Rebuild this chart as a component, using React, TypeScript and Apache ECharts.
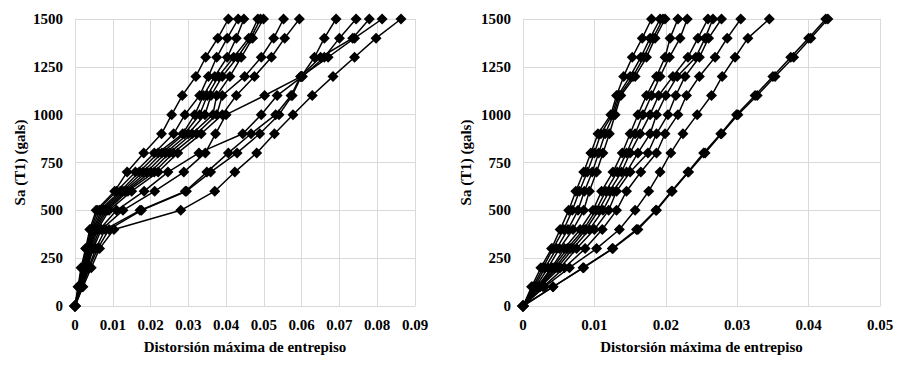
import React, { useEffect, useRef } from "react";
import * as echarts from "echarts";

// Sa (T1) levels (gals), shared by every curve
const levels = [0, 100, 200, 300, 400, 500, 600, 700, 800, 900, 1000, 1100, 1200, 1300, 1400, 1500];

// Left panel: maximum interstory drift per curve
const left01 = [0, 0.0008, 0.0016, 0.0028, 0.0039, 0.0056, 0.0105, 0.0138, 0.0182, 0.0229, 0.0256, 0.0284, 0.032, 0.0346, 0.0378, 0.0406];
const left02 = [0, 0.0009, 0.0018, 0.003, 0.0042, 0.006, 0.011, 0.016, 0.021, 0.0261, 0.0291, 0.033, 0.0353, 0.0375, 0.0403, 0.0432];
const left03 = [0, 0.001, 0.002, 0.0032, 0.0045, 0.0065, 0.012, 0.017, 0.022, 0.0285, 0.0317, 0.034, 0.037, 0.0403, 0.0427, 0.0447];
const left04 = [0, 0.0011, 0.0022, 0.0034, 0.0048, 0.007, 0.0125, 0.018, 0.023, 0.029, 0.033, 0.035, 0.038, 0.042, 0.046, 0.0484];
const left05 = [0, 0.0012, 0.0024, 0.0036, 0.005, 0.0075, 0.013, 0.019, 0.024, 0.03, 0.0344, 0.036, 0.039, 0.043, 0.0465, 0.0491];
const left06 = [0, 0.0013, 0.0026, 0.0038, 0.0053, 0.008, 0.0135, 0.02, 0.025, 0.031, 0.0365, 0.0375, 0.041, 0.044, 0.047, 0.0499];
const left07 = [0, 0.0014, 0.0028, 0.004, 0.0056, 0.0085, 0.014, 0.021, 0.026, 0.0322, 0.0375, 0.039, 0.0449, 0.0493, 0.0526, 0.0552];
const left08 = [0, 0.0015, 0.003, 0.0042, 0.006, 0.009, 0.015, 0.022, 0.0272, 0.0334, 0.039, 0.0427, 0.0475, 0.052, 0.0555, 0.0594];
const left09 = [0, 0.0016, 0.0033, 0.0048, 0.007, 0.0127, 0.0211, 0.0288, 0.0345, 0.0372, 0.04, 0.0502, 0.0599, 0.0634, 0.066, 0.0691];
const left10 = [0, 0.0016, 0.0032, 0.0045, 0.0065, 0.011, 0.0183, 0.0246, 0.0328, 0.0444, 0.0493, 0.0535, 0.0602, 0.066, 0.07, 0.0744];
const left11 = [0, 0.0018, 0.0036, 0.0055, 0.008, 0.0172, 0.0292, 0.0349, 0.0406, 0.0466, 0.0531, 0.0572, 0.0597, 0.065, 0.0735, 0.0779];
const left12 = [0, 0.0019, 0.0038, 0.006, 0.009, 0.0176, 0.0295, 0.0359, 0.0429, 0.0489, 0.054, 0.0575, 0.0599, 0.067, 0.074, 0.0813];
const left13 = [0, 0.0021, 0.0043, 0.0065, 0.0103, 0.028, 0.037, 0.0423, 0.0481, 0.0528, 0.0577, 0.0628, 0.0683, 0.074, 0.0797, 0.0863];

// Right panel
const right01 = [0, 0.0012, 0.0025, 0.004, 0.0052, 0.0064, 0.0074, 0.0085, 0.0095, 0.0105, 0.0123, 0.0131, 0.0141, 0.0153, 0.0167, 0.018];
const right02 = [0, 0.0014, 0.0028, 0.0042, 0.0057, 0.0069, 0.0079, 0.009, 0.01, 0.0109, 0.0125, 0.0133, 0.015, 0.0165, 0.0178, 0.0192];
const right03 = [0, 0.0016, 0.0031, 0.0047, 0.0063, 0.0077, 0.0086, 0.0097, 0.0106, 0.0115, 0.0127, 0.0135, 0.0154, 0.0169, 0.0182, 0.0196];
const right04 = [0, 0.0018, 0.0035, 0.0051, 0.007, 0.0085, 0.0093, 0.0103, 0.0112, 0.0121, 0.0129, 0.0137, 0.0157, 0.0173, 0.0185, 0.0199];
const right05 = [0, 0.002, 0.004, 0.0058, 0.008, 0.0098, 0.011, 0.0126, 0.0139, 0.015, 0.0161, 0.0173, 0.0187, 0.0199, 0.0206, 0.0217];
const right06 = [0, 0.0021, 0.0042, 0.0062, 0.0085, 0.0102, 0.0116, 0.0132, 0.0145, 0.0157, 0.0168, 0.018, 0.0192, 0.0205, 0.022, 0.023];
const right07 = [0, 0.0022, 0.0045, 0.0066, 0.0088, 0.0106, 0.0121, 0.0138, 0.015, 0.0164, 0.0178, 0.019, 0.021, 0.0231, 0.0245, 0.0259];
const right08 = [0, 0.0023, 0.0048, 0.007, 0.0093, 0.0112, 0.0126, 0.0145, 0.0161, 0.0178, 0.0187, 0.02, 0.0216, 0.0242, 0.0255, 0.0266];
const right09 = [0, 0.0024, 0.0052, 0.0075, 0.01, 0.012, 0.0131, 0.015, 0.0175, 0.0187, 0.0203, 0.0214, 0.0227, 0.0247, 0.026, 0.0278];
const right10 = [0, 0.0028, 0.0058, 0.0087, 0.0111, 0.0131, 0.0145, 0.0165, 0.0187, 0.0199, 0.0217, 0.0229, 0.0247, 0.0269, 0.0286, 0.0305];
const right11 = [0, 0.003, 0.0065, 0.0103, 0.0135, 0.0157, 0.0176, 0.0192, 0.0207, 0.0224, 0.0244, 0.0264, 0.0279, 0.0297, 0.0315, 0.0345];
const right12 = [0, 0.0042, 0.0084, 0.0125, 0.0159, 0.0186, 0.0208, 0.0231, 0.0253, 0.0277, 0.0299, 0.0325, 0.035, 0.0375, 0.04, 0.0424];
const right13 = [0, 0.0042, 0.0085, 0.0126, 0.0161, 0.0187, 0.0209, 0.0232, 0.0255, 0.0278, 0.0301, 0.0328, 0.0353, 0.0379, 0.0403, 0.0427];

const leftCurves = [left01, left02, left03, left04, left05, left06, left07, left08, left09, left10, left11, left12, left13];
const rightCurves = [right01, right02, right03, right04, right05, right06, right07, right08, right09, right10, right11, right12, right13];

const yTicks = { min: 0, max: 1500, interval: 250 };
const xTicksLeft = { min: 0, max: 0.09, interval: 0.01 };
const xTicksRight = { min: 0, max: 0.05, interval: 0.01 };

const yName = "Sa (T1) (gals)";
const xName = "Distorsión máxima de entrepiso";

const FONT = "Liberation Serif";
const GRID = "#d9d9d9";

function fmtX(v: number) {
  if (Math.abs(v) < 1e-9) return "0";
  return v.toFixed(2);
}
function fmtY(v: number) {
  return String(Math.round(v));
}

export default function App() {
  const ref = useRef<HTMLDivElement>(null);
  useEffect(() => {
    if (!ref.current) return;
    const chart = echarts.init(ref.current, undefined, { renderer: "svg" });
    const textStyle = { fontFamily: FONT, fontWeight: "bold" as const, fontSize: 15, color: "#000" };
    const xAxisBase = (idx: number, t: { min: number; max: number; interval: number }) => ({
      type: "value",
      gridIndex: idx,
      min: t.min,
      max: t.max,
      interval: t.interval,
      name: xName,
      nameLocation: "middle",
      nameGap: 33,
      nameTextStyle: textStyle,
      axisLine: { show: true, lineStyle: { color: GRID, width: 1 } },
      axisTick: { show: false },
      axisLabel: { ...textStyle, margin: 11, formatter: fmtX },
      splitLine: { show: true, lineStyle: { color: GRID, width: 1 } },
    });
    const yAxisBase = (idx: number, gap: number) => ({
      type: "value",
      gridIndex: idx,
      min: yTicks.min,
      max: yTicks.max,
      interval: yTicks.interval,
      name: yName,
      nameLocation: "middle",
      nameGap: gap,
      nameTextStyle: textStyle,
      axisLine: { show: true, lineStyle: { color: GRID, width: 1 } },
      axisTick: { show: false },
      axisLabel: { ...textStyle, margin: 12, formatter: fmtY },
      splitLine: { show: true, lineStyle: { color: GRID, width: 1 } },
    });
    const mkSeries = (curves: number[][], idx: number) =>
      curves.map((c, i) => ({
        type: "line",
        name: (idx === 0 ? "L" : "R") + (i + 1),
        xAxisIndex: idx,
        yAxisIndex: idx,
        data: c.map((x, k) => [x, levels[k]]),
        symbol: "diamond",
        symbolSize: 11,
        showAllSymbol: true,
        lineStyle: { color: "#000", width: 1.5 },
        itemStyle: { color: "#000" },
        z: 3,
      }));
    chart.setOption({
      animation: false,
      backgroundColor: "#fff",
      grid: [
        { left: 75, top: 19, width: 340, height: 287, containLabel: false },
        { left: 523, top: 19, width: 357, height: 287, containLabel: false },
      ],
      xAxis: [xAxisBase(0, xTicksLeft), xAxisBase(1, xTicksRight)],
      yAxis: [yAxisBase(0, 48), yAxisBase(1, 50)],
      series: [...mkSeries(leftCurves, 0), ...mkSeries(rightCurves, 1)],
    });
    return () => chart.dispose();
  }, []);
  return (
    <div
      ref={ref}
      style={{ position: "fixed", left: 0, top: 0, width: 904, height: 369, background: "#fff" }}
    />
  );
}
